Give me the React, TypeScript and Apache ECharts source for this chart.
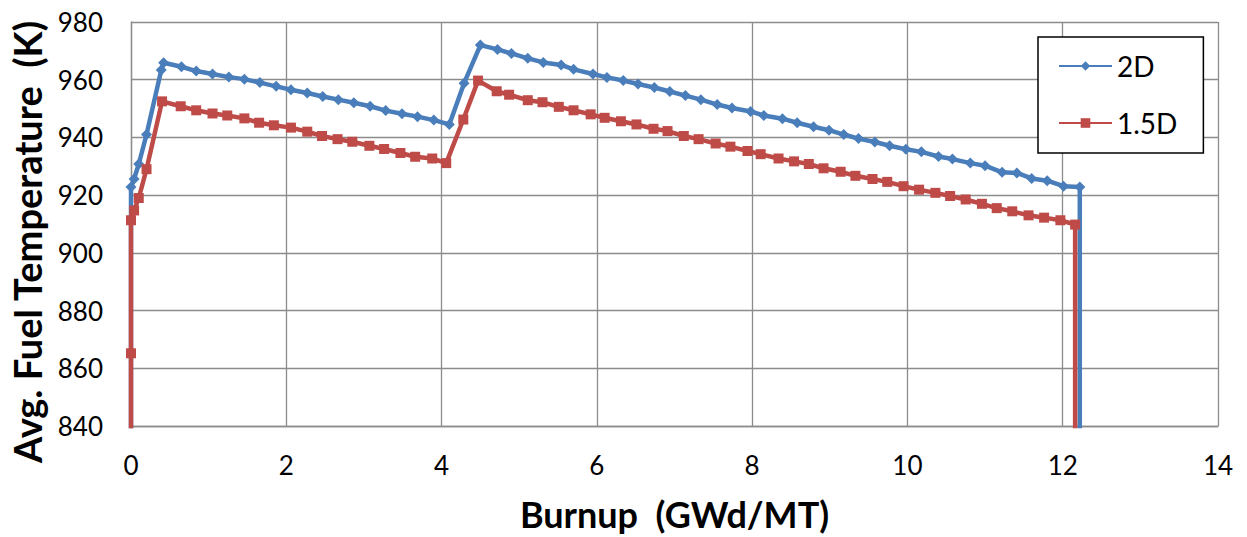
import React, { useEffect, useRef } from "react";
import * as echarts from "echarts";

const xTicks = { min: 0, max: 14, interval: 2 };
const yTicks = { min: 840, max: 980, interval: 20 };

const seriesNames = ["2D", "1.5D"];

const burnup2D = [
  0, 0, 0.04, 0.1, 0.2, 0.39, 0.42,
  0.65, 0.84, 1.05, 1.26, 1.46, 1.66, 1.87, 2.06, 2.27, 2.47, 2.67, 2.87, 3.08, 3.28, 3.49, 3.69, 3.9, 4.1,
  4.29, 4.5, 4.72, 4.9, 5.11, 5.31, 5.54, 5.7, 5.95, 6.13, 6.34, 6.53, 6.74, 6.94, 7.14, 7.34, 7.55, 7.74, 7.98, 8.15, 8.39, 8.58,
  8.79, 8.99, 9.18, 9.37, 9.58, 9.77, 9.98, 10.18, 10.4, 10.58, 10.81, 11.0, 11.22, 11.41, 11.6, 11.8, 12.01, 12.22,
  12.22,
];
const temp2D = [
  800, 922.8, 925.6, 930.8, 941, 963.4, 965.9,
  964.5, 963, 962, 960.9, 960.2, 959, 957.7, 956.5, 955.4, 954.2, 953.1, 952, 950.8, 949.3, 948.2, 947.2, 946, 944.5,
  958.8, 972, 970.5, 969.1, 967.4, 966, 965.1, 963.6, 962, 960.8, 959.7, 958.5, 957.3, 955.9, 954.5, 953.1, 951.4, 950.2, 949, 947.6, 946.5, 945.1,
  943.7, 942.5, 941, 939.6, 938.4, 937.1, 935.9, 935, 933.4, 932.5, 931.1, 930.2, 927.9, 927.7, 925.8, 925, 923.1, 922.8,
  800,
];

const burnup15D = [
  0, 0, 0, 0.04, 0.1, 0.2, 0.4,
  0.64, 0.84, 1.05, 1.24, 1.46, 1.65, 1.84, 2.06, 2.27, 2.46, 2.66, 2.85, 3.07, 3.26, 3.47, 3.66, 3.88, 4.06,
  4.28, 4.47, 4.71, 4.87, 5.11, 5.3, 5.51, 5.7, 5.92, 6.1, 6.31, 6.51, 6.73, 6.91, 7.12, 7.31, 7.53, 7.72, 7.94, 8.11, 8.34, 8.54,
  8.73, 8.92, 9.14, 9.33, 9.55, 9.74, 9.95, 10.15, 10.36, 10.55, 10.75, 10.96, 11.15, 11.35, 11.56, 11.76, 11.97, 12.16,
  12.16,
];
const temp15D = [
  800, 865.2, 911.3, 914.7, 919, 929, 952.5,
  950.8, 949.4, 948.3, 947.6, 946.6, 945.1, 944.2, 943.4, 942, 940.5, 939.4, 938.5, 937.1, 936, 934.6, 933.3, 932.7, 931.1,
  946.2, 959.7, 956, 954.8, 952.9, 952.2, 950.6, 949.4, 948, 946.8, 945.6, 944.5, 943, 942.2, 940.5, 939.4, 937.9, 936.8, 935.3, 934.2, 932.7, 931.7,
  930.8, 929.3, 928.1, 926.7, 925.6, 924.6, 923.1, 921.9, 920.8, 919.7, 918.5, 917, 915.5, 914.4, 913, 912.2, 911.3, 909.8,
  800,
];

const FONT = "Lato, 'Liberation Sans', sans-serif";

export default function App() {
  const ref = useRef<HTMLDivElement>(null);
  useEffect(() => {
    if (!ref.current) return;
    const chart = echarts.init(ref.current, undefined, { renderer: "svg" });
    const zip = (xs: number[], ys: number[]) => xs.map((x, i) => [x, ys[i]]);
    chart.setOption({
      animation: false,
      backgroundColor: "#ffffff",
      textStyle: { fontFamily: FONT },
      grid: { left: 130, right: 29, top: 22, bottom: 109, containLabel: false },
      legend: {
        orient: "vertical",
        left: 1038,
        top: 37,
        padding: [15, 26, 16, 20],
        itemWidth: 53,
        itemHeight: 12,
        itemGap: 29,
        backgroundColor: "#ffffff",
        borderColor: "#000000",
        borderWidth: 1.5,
        borderRadius: 0,
        textStyle: { fontSize: 28, color: "#000", fontFamily: FONT },
        data: seriesNames,
      },
      xAxis: {
        type: "value",
        min: xTicks.min,
        max: xTicks.max,
        interval: xTicks.interval,
        name: "Burnup  (GWd/MT)",
        nameLocation: "middle",
        nameGap: 70,
        nameTextStyle: { fontSize: 36, fontWeight: "bold", color: "#000", fontFamily: FONT },
        axisLine: { show: true, lineStyle: { color: "#8c8c8c", width: 1.3 } },
        axisTick: { show: false },
        axisLabel: { fontSize: 26, color: "#000", margin: 26, fontFamily: FONT },
        splitLine: { show: true, lineStyle: { color: "#8c8c8c", width: 1.3 } },
      },
      yAxis: {
        type: "value",
        min: yTicks.min,
        max: yTicks.max,
        interval: yTicks.interval,
        name: "Avg. Fuel Temperature  (K)",
        nameLocation: "middle",
        nameRotate: 90,
        nameGap: 85,
        nameTextStyle: {
          fontSize: 38,
          fontWeight: "bold",
          color: "#000",
          fontFamily: FONT,
          padding: [0, 36, 0, 0],
        },
        axisLine: { show: true, lineStyle: { color: "#8c8c8c", width: 1.3 } },
        axisTick: { show: false },
        axisLabel: { fontSize: 26, color: "#000", margin: 28, fontFamily: FONT },
        splitLine: { show: true, lineStyle: { color: "#8c8c8c", width: 1.3 } },
      },
      series: [
        {
          name: seriesNames[0],
          type: "line",
          data: zip(burnup2D, temp2D),
          clip: true,
          symbol: "diamond",
          symbolSize: 11,
          lineStyle: { color: "#4A7EBB", width: 4.5 },
          itemStyle: { color: "#4A7EBB", borderWidth: 0 },
          z: 2,
        },
        {
          name: seriesNames[1],
          type: "line",
          data: zip(burnup15D, temp15D),
          clip: true,
          symbol: "rect",
          symbolSize: 10,
          lineStyle: { color: "#BE4B48", width: 4.5 },
          itemStyle: { color: "#BE4B48", borderWidth: 0 },
          z: 3,
        },
      ],
    });
    return () => chart.dispose();
  }, []);
  return (
    <div
      ref={ref}
      style={{ position: "fixed", left: 0, top: 0, width: 1247, height: 537, background: "#fff" }}
    />
  );
}
